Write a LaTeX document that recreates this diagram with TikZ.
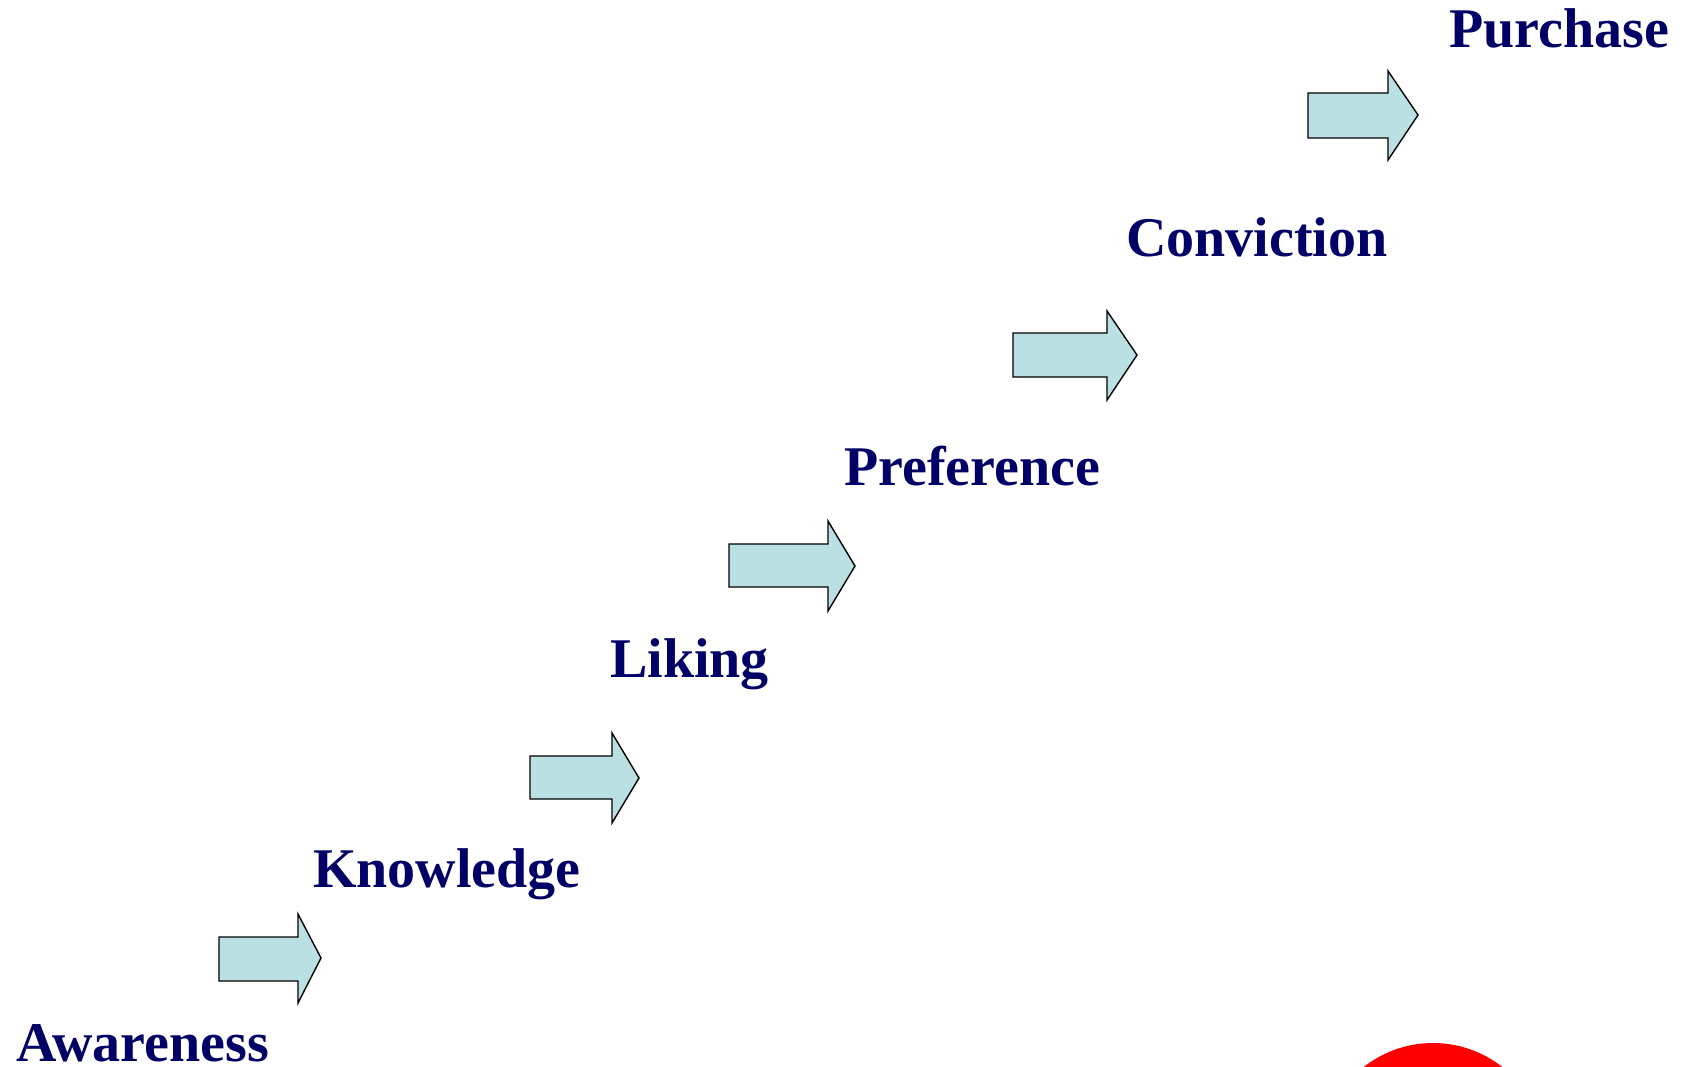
\documentclass[tikz,border=0pt]{standalone}
\usepackage{fontspec}
\setmainfont{Liberation Serif}
\definecolor{stagenavy}{RGB}{0,0,102}
\definecolor{arrowfill}{RGB}{187,224,227}
\begin{document}
\begin{tikzpicture}[x=1pt,y=-1pt,
  stage/.style={anchor=base west,inner sep=0pt,text=stagenavy,
    font=\fontsize{56}{60}\selectfont\bfseries},
  blockarrow/.style={draw=black,fill=arrowfill,line width=1.4pt,line join=miter}]
\useasboundingbox (0,0) rectangle (1686,1067);
\clip (0,0) rectangle (1686,1067);

% stage labels
\node[stage] (awareness)  at (16,1061)  {Awareness};
\node[stage] (knowledge)  at (313,887)  {Knowledge};
\node[stage] (liking)     at (610,677)  {Liking};
\node[stage] (preference) at (844,485)  {Preference};
\node[stage] (conviction) at (1126,257) {Conviction};
\node[stage] (purchase)   at (1449,48)  {Purchase};

% block arrows between the stages
% body: left, top, bottom; head: base, top, bottom; tip: x, y
\draw[blockarrow] (219,937) -- (298,937) -- (298,914) -- (321,958)
  -- (298,1003) -- (298,981) -- (219,981) -- cycle;
\draw[blockarrow] (530,756) -- (612,756) -- (612,733) -- (639,778)
  -- (612,823) -- (612,799) -- (530,799) -- cycle;
\draw[blockarrow] (729,544) -- (828,544) -- (828,521) -- (855,566)
  -- (828,611) -- (828,587) -- (729,587) -- cycle;
\draw[blockarrow] (1013,333) -- (1107,333) -- (1107,311) -- (1137,355)
  -- (1107,400) -- (1107,377) -- (1013,377) -- cycle;
\draw[blockarrow] (1308,93) -- (1388,93) -- (1388,71) -- (1418,115)
  -- (1388,160) -- (1388,138) -- (1308,138) -- cycle;

% red disc at the lower edge
\fill[red] (1433,1155) circle (112);
\end{tikzpicture}
\end{document}
